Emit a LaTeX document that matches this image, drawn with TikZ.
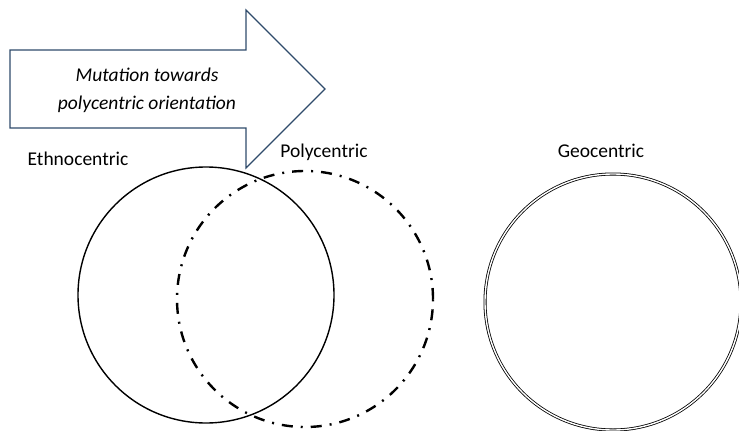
\documentclass[tikz,border=0pt]{standalone}
\usepackage{fontspec}
\setmainfont{Carlito}
\usetikzlibrary{positioning}
\definecolor{arrowline}{HTML}{2F4B6B}

\begin{document}
\begin{tikzpicture}[x=1pt, y=-1pt]
    \tikzstyle{label} = [anchor=base, inner sep=0pt, font=\fontsize{19.5}{24}\selectfont]
    \tikzstyle{orient} = [circle, minimum size=256pt, inner sep=0pt]

    \useasboundingbox (0,0) rectangle (739,431);

    % Orientation circles
    \node[orient, draw, line width=1.4pt] (ethno) at (206,295) {};
    \node[orient, draw, line width=2.4pt, dash pattern=on 11pt off 8pt on 2pt off 8pt] (poly) at (305,299) {};
    \node[orient, draw, double, line width=0.8pt, double distance=1.4pt] (geo) at (613,302) {};

    % Arrow
    \draw[arrowline, fill=white, line width=1.2pt, line join=miter]
        (10,50) -- (246,50) -- (246,10) -- (325,89) -- (246,168) -- (246,128) -- (10,128) -- cycle;
    \node[align=center, inner sep=0pt, font=\fontsize{19.5}{28}\selectfont\itshape] (mutation) at (147,90)
        {Mutation towards\\polycentric orientation};

    % Labels
    \node[label] (ethnolbl) at (78,165) {Ethnocentric};
    \node[label] (polylbl) at (324,157) {Polycentric};
    \node[label] (geolbl) at (601,157) {Geocentric};
\end{tikzpicture}
\end{document}
